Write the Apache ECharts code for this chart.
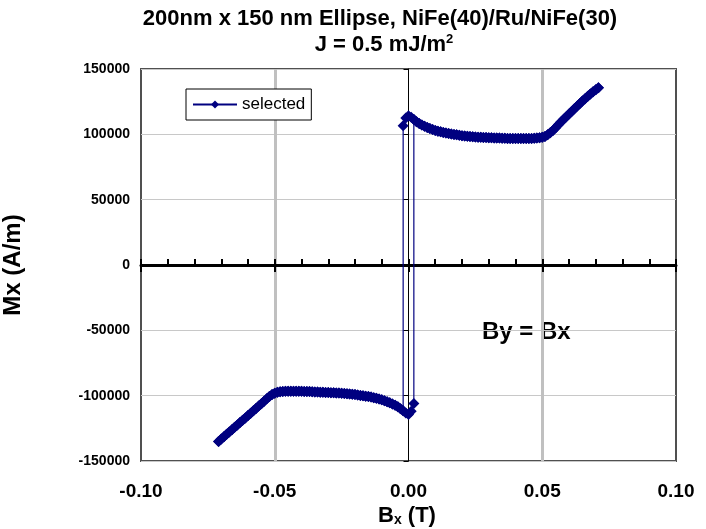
<!DOCTYPE html>
<html>
<head>
<meta charset="utf-8">
<script src="https://cdn.jsdelivr.net/npm/echarts@6/dist/echarts.min.js"></script>
<style>
  html, body { margin: 0; padding: 0; background: #fff; }
  #chart { width: 706px; height: 529px; }
</style>
</head>
<body>
<div id="chart"></div>
<script>
// Applied field Bx (T) on the upper (positive Mx) branch, ascending
const fieldUpper = [
  -0.002, -0.001, 0.000, 0.001, 0.002, 0.003, 0.004, 0.005, 0.006, 0.007,
  0.008, 0.009, 0.010, 0.011, 0.012, 0.013, 0.014, 0.015, 0.016, 0.017,
  0.018, 0.019, 0.020, 0.021, 0.022, 0.023, 0.024, 0.025, 0.026, 0.027,
  0.028, 0.029, 0.030, 0.031, 0.032, 0.033, 0.034, 0.035, 0.036, 0.037,
  0.038, 0.039, 0.040, 0.041, 0.042, 0.043, 0.044, 0.045, 0.046, 0.047,
  0.048, 0.049, 0.050, 0.051, 0.052, 0.053, 0.054, 0.055, 0.056, 0.057,
  0.058, 0.059, 0.060, 0.061, 0.062, 0.063, 0.064, 0.065, 0.066, 0.067,
  0.068, 0.069, 0.070, 0.071
];
// Mx (A/m) on the upper branch
const mxUpper = [
  106500, 112500, 114300, 113000, 111300, 109700, 108300, 107100, 106100, 105200,
  104400, 103700, 103000, 102400, 101900, 101400, 101000, 100600, 100200, 99900,
  99600, 99300, 99000, 98800, 98600, 98400, 98200, 98000, 97800, 97700,
  97600, 97500, 97400, 97300, 97200, 97100, 97100, 97000, 97000, 96900,
  96900, 96800, 96800, 96800, 96800, 96800, 96800, 96900, 96900, 97000,
  97100, 97300, 97700, 98400, 99600, 101200, 103000, 105100, 107300, 109500,
  111500, 113500, 115500, 117500, 119500, 121500, 123500, 125500, 127300, 129100,
  130900, 132600, 134200, 135600
];
// Applied field Bx (T) on the lower (negative Mx) branch, ascending
const fieldLower = [
  -0.071, -0.070, -0.069, -0.068, -0.067, -0.066, -0.065, -0.064, -0.063, -0.062,
  -0.061, -0.060, -0.059, -0.058, -0.057, -0.056, -0.055, -0.054, -0.053, -0.052,
  -0.051, -0.050, -0.049, -0.048, -0.047, -0.046, -0.045, -0.044, -0.043, -0.042,
  -0.041, -0.040, -0.039, -0.038, -0.037, -0.036, -0.035, -0.034, -0.033, -0.032,
  -0.031, -0.030, -0.029, -0.028, -0.027, -0.026, -0.025, -0.024, -0.023, -0.022,
  -0.021, -0.020, -0.019, -0.018, -0.017, -0.016, -0.015, -0.014, -0.013, -0.012,
  -0.011, -0.010, -0.009, -0.008, -0.007, -0.006, -0.005, -0.004, -0.003, -0.002,
  -0.001, 0.000, 0.001, 0.002
];
// Mx (A/m) on the lower branch
const mxLower = [
  -135000, -133200, -131400, -129600, -127800, -126000, -124200, -122400, -120600, -118800,
  -117000, -115200, -113400, -111600, -109800, -108000, -106200, -104300, -102400, -100700,
  -99200, -98100, -97400, -97000, -96800, -96700, -96600, -96600, -96600, -96600,
  -96700, -96700, -96800, -96800, -96900, -97000, -97100, -97200, -97300, -97400,
  -97500, -97600, -97700, -97800, -97900, -98000, -98200, -98400, -98600, -98800,
  -99000, -99200, -99500, -99800, -100100, -100400, -100700, -101100, -101500, -102000,
  -102500, -103100, -103800, -104600, -105400, -106300, -107300, -108500, -110000, -111600,
  -113200, -114500, -112000, -106000
];

const xTicks = { min: -0.10, max: 0.10, step: 0.05, minorStep: 0.01 };
const yTicks = { min: -150000, max: 150000, step: 50000 };

const seriesName = 'selected';
const titleLine1 = '200nm x 150 nm Ellipse, NiFe(40)/Ru/NiFe(30)';
const noteText = 'By = Bx';

// Field sweep: down along the upper branch, switch, down the lower branch,
// back up the lower branch, switch, and up the upper branch.
function buildLoop() {
  const pts = [];
  for (let i = fieldUpper.length - 1; i >= 0; i--) pts.push([fieldUpper[i], mxUpper[i]]);
  const jLow = fieldLower.indexOf(-0.002);
  for (let i = jLow; i >= 0; i--) pts.push([fieldLower[i], mxLower[i]]);
  for (let i = 0; i < fieldLower.length; i++) pts.push([fieldLower[i], mxLower[i]]);
  const jUp = fieldUpper.indexOf(0.002);
  for (let i = jUp; i < fieldUpper.length; i++) pts.push([fieldUpper[i], mxUpper[i]]);
  return pts;
}

const FONT = 'Arial, "Liberation Sans", sans-serif';
const chart = echarts.init(document.getElementById('chart'), null, { renderer: 'canvas' });

const gridBox = { left: 141, right: 30, top: 69, bottom: 68 };

const xBase = { type: 'value', min: xTicks.min, max: xTicks.max, gridIndex: 0 };
const yBase = { type: 'value', min: yTicks.min, max: yTicks.max, interval: yTicks.step, gridIndex: 0 };

chart.setOption({
  animation: false,
  backgroundColor: '#ffffff',
  grid: Object.assign({ show: true, borderColor: '#505050', borderWidth: 2, backgroundColor: '#fff', containLabel: false }, gridBox),
  legend: {
    data: [seriesName],
    left: 186, top: 89,
    backgroundColor: '#fff',
    borderColor: '#000', borderWidth: 1, borderRadius: 0,
    padding: [7, 6, 7, 6],
    itemWidth: 44, itemHeight: 10, itemGap: 5,
    textStyle: { fontFamily: FONT, fontSize: 17, color: '#000', padding: [0, 0, 0, 0] }
  },
  xAxis: [
    // labelled axis along the bottom of the plot, with grey field gridlines
    Object.assign({}, xBase, {
      interval: xTicks.step,
      position: 'bottom',
      axisLine: { show: false, onZero: false },
      axisTick: { show: false },
      axisLabel: {
        margin: 21, fontFamily: FONT, fontWeight: 'bold', fontSize: 19, color: '#000',
        formatter: v => v.toFixed(2)
      },
      splitLine: {
        show: true,
        lineStyle: { width: 3, color: ['rgba(0,0,0,0)', '#c0c0c0', 'rgba(0,0,0,0)', '#c0c0c0', 'rgba(0,0,0,0)'] }
      }
    }),
    // heavy zero line with minor ticks every 0.01 T
    Object.assign({}, xBase, {
      interval: xTicks.minorStep,
      position: 'bottom',
      axisLine: { show: true, onZero: true, onZeroAxisIndex: 0, lineStyle: { color: '#000', width: 3 } },
      axisTick: { show: true, inside: true, length: 6, lineStyle: { color: '#000', width: 2 } },
      axisLabel: { show: false },
      splitLine: { show: false }
    }),
    // major ticks crossing the zero line
    Object.assign({}, xBase, {
      interval: xTicks.step,
      position: 'bottom',
      axisLine: { show: false, onZero: true, onZeroAxisIndex: 0 },
      axisTick: { show: true, inside: false, length: 7, lineStyle: { color: '#000', width: 2 } },
      axisLabel: { show: false },
      splitLine: { show: false }
    })
  ],
  yAxis: [
    Object.assign({}, yBase, {
      position: 'left',
      axisLine: { show: false, onZero: false },
      axisTick: { show: false },
      axisLabel: {
        margin: 11, fontFamily: FONT, fontWeight: 'bold', fontSize: 14, color: '#000',
        formatter: v => String(v)
      },
      splitLine: { show: true, lineStyle: { color: '#c8c8c8', width: 1 } }
    }),
    // thin vertical line at Bx = 0
    Object.assign({}, yBase, {
      position: 'left',
      axisLine: { show: true, onZero: true, onZeroAxisIndex: 0, lineStyle: { color: '#000', width: 1 } },
      axisTick: { show: true, inside: false, length: 5, lineStyle: { color: '#000', width: 1 } },
      axisLabel: { show: false },
      splitLine: { show: false }
    })
  ],
  graphic: [
    {
      type: 'text', x: 380, y: 19,
      style: { text: titleLine1, font: 'bold 22px ' + FONT, fill: '#000', align: 'center', verticalAlign: 'middle' }
    },
    {
      type: 'text', x: 384, y: 45,
      style: {
        text: '{t|J = 0.5 mJ/m}{s|2}', align: 'center', verticalAlign: 'middle',
        rich: {
          t: { font: 'bold 22px ' + FONT, fill: '#000' },
          s: { font: 'bold 13px ' + FONT, fill: '#000', padding: [0, 0, 11, 0] }
        }
      }
    },
    {
      type: 'text', x: 13, y: 265, rotation: Math.PI / 2,
      style: { text: 'Mx (A/m)', font: 'bold 24px ' + FONT, fill: '#000', align: 'center', verticalAlign: 'middle' }
    },
    {
      type: 'text', x: 407, y: 516,
      style: {
        text: '{b|B}{s|x}{b| (T)}', align: 'center', verticalAlign: 'middle',
        rich: {
          b: { font: 'bold 22px ' + FONT, fill: '#000' },
          s: { font: 'bold 14px ' + FONT, fill: '#000', padding: [9, 0, 0, 0] }
        }
      }
    },
    {
      type: 'text', x: 482, y: 332,
      style: { text: noteText, font: 'bold 24px ' + FONT, fill: '#000', align: 'left', verticalAlign: 'middle' }
    }
  ],
  series: [
    {
      name: seriesName,
      type: 'line',
      xAxisIndex: 0, yAxisIndex: 0,
      data: buildLoop(),
      symbol: 'diamond',
      symbolSize: 11,
      showSymbol: true,
      showAllSymbol: true,
      color: '#000080',
      itemStyle: { color: '#000080' },
      lineStyle: { color: '#000080', width: 1.2 },
      z: 5
    }
  ]
});
</script>
</body>
</html>
